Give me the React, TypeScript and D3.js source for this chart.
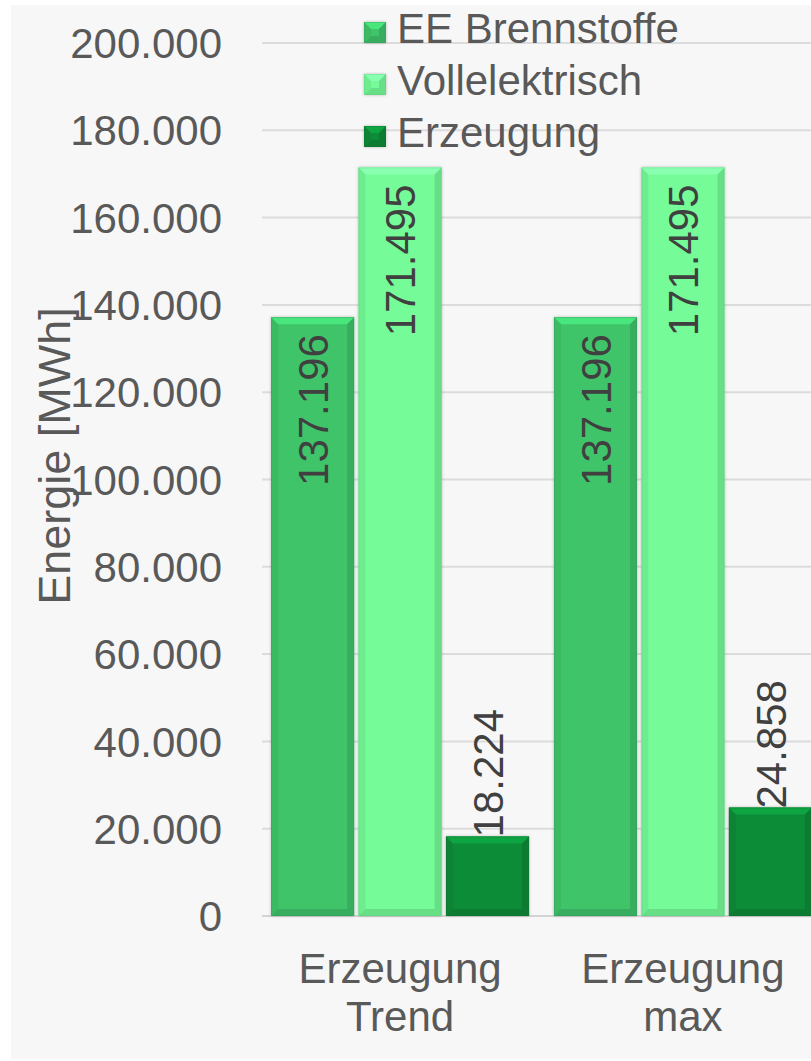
import React from 'react';
import * as d3 from 'd3';

const categories = [['Erzeugung', 'Trend'], ['Erzeugung', 'max']];
const seriesNames = ['EE Brennstoffe', 'Vollelektrisch', 'Erzeugung'];
const seriesColors = ['#3fc46b', '#75fc98', '#0b8c38'];
const eeBrennstoffe = [137196, 137196];
const vollelektrisch = [171495, 171495];
const erzeugung = [18224, 24858];
const yTicks = [0, 20000, 40000, 60000, 80000, 100000, 120000, 140000, 160000, 180000, 200000];

const W = 811;
const H = 1061;
const font = "'Liberation Sans', Arial, sans-serif";

const de = d3.formatLocale({ decimal: ',', thousands: '.', grouping: [3], currency: ['', ' €'] });
const fmt = de.format(',d');

const Bar = ({ x, y, w, h, color }: { x: number; y: number; w: number; h: number; color: string }) => {
    const b = Math.min(7, h / 2);
    const light = d3.color(color)!.brighter(0.45).formatHex();
    const dark = d3.color(color)!.darker(0.35).formatHex();
    const darker = d3.color(color)!.darker(0.6).formatHex();
    return (
        <g filter="url(#shadow)">
            <rect x={x} y={y} width={w} height={h} fill={color} />
            <polygon points={`${x},${y} ${x + w},${y} ${x + w - b},${y + b} ${x + b},${y + b}`} fill={light} />
            <polygon points={`${x},${y + h} ${x + w},${y + h} ${x + w - b},${y + h - b} ${x + b},${y + h - b}`} fill={dark} />
            <polygon points={`${x},${y} ${x + b},${y + b} ${x + b},${y + h - b} ${x},${y + h}`} fill={dark} opacity={0.5} />
            <polygon points={`${x + w},${y} ${x + w - b},${y + b} ${x + w - b},${y + h - b} ${x + w},${y + h}`} fill={darker} opacity={0.6} />
            <rect x={x + 0.5} y={y + 0.5} width={w - 1} height={h - 1} fill="none" stroke={darker} strokeOpacity={0.35} />
        </g>
    );
};

export default function App() {
    const series = [eeBrennstoffe, vollelektrisch, erzeugung];
    const y = d3.scaleLinear().domain([0, 200000]).range([916, 43]);
    const x0 = d3.scaleBand<number>()
        .domain(categories.map((_, i) => i))
        .range([262, 821])
        .paddingInner(0.088)
        .paddingOuter(0.032);
    const x1 = d3.scaleBand<number>()
        .domain(seriesNames.map((_, i) => i))
        .range([0, x0.bandwidth()])
        .paddingInner(0.05);

    return (
        <svg width={W} height={H} style={{ position: 'absolute', left: 0, top: 0 }} fontFamily={font}>
            <defs>
                <filter id="shadow" x="-10%" y="-10%" width="120%" height="120%">
                    <feDropShadow dx="0" dy="0" stdDeviation="1.5" floodColor="#000" floodOpacity="0.25" />
                </filter>
            </defs>
            <rect x={0} y={0} width={W} height={H} fill="#ffffff" />
            <rect x={11} y={5} width={W - 11} height={1054} fill="#f7f7f7" />

            {/* grid */}
            {yTicks.map(t => (
                <line key={t} x1={262} x2={W} y1={y(t)} y2={y(t)} stroke={t === 0 ? '#d4d4d4' : '#dcdcdc'} strokeWidth={2} />
            ))}

            {/* y tick labels */}
            {yTicks.map(t => (
                <text key={t} x={222} y={y(t)} dy="0.36em" textAnchor="end" fontSize={42} fill="#595959">
                    {fmt(t)}
                </text>
            ))}

            <text transform="translate(70,456) rotate(-90)" textAnchor="middle" fontSize={45} fill="#595959">
                Energie [MWh]
            </text>

            {/* data labels */}
            {categories.map((c, ci) =>
                series.map((s, si) => {
                    const cx = x0(ci)! + x1(si)! + x1.bandwidth() / 2;
                    const by = y(s[ci]);
                    const inside = y(0) - by > 200;
                    const ly = inside ? by + 17 : by + 1;
                    return (
                        <text
                            key={`l${ci}-${si}`}
                            transform={`translate(${cx},${ly}) rotate(-90)`}
                            dy="0.36em"
                            textAnchor={inside ? 'end' : 'start'}
                            fontSize={42}
                            fill="#404040"
                            style={{ display: inside ? 'none' : undefined }}
                        >
                            {fmt(s[ci])}
                        </text>
                    );
                })
            )}

            {/* bars */}
            {categories.map((c, ci) =>
                series.map((s, si) => {
                    const bx = x0(ci)! + x1(si)!;
                    const by = y(s[ci]);
                    return (
                        <Bar key={`${ci}-${si}`} x={bx} y={by} w={x1.bandwidth()} h={y(0) - by} color={seriesColors[si]} />
                    );
                })
            )}

            {/* data labels inside bars */}
            {categories.map((c, ci) =>
                series.map((s, si) => {
                    const cx = x0(ci)! + x1(si)! + x1.bandwidth() / 2;
                    const by = y(s[ci]);
                    if (y(0) - by <= 200) return null;
                    return (
                        <text
                            key={`i${ci}-${si}`}
                            transform={`translate(${cx},${by + 17}) rotate(-90)`}
                            dy="0.36em"
                            textAnchor="end"
                            fontSize={42}
                            fill="#404040"
                        >
                            {fmt(s[ci])}
                        </text>
                    );
                })
            )}

            {/* category labels */}
            {categories.map((c, ci) => (
                <text key={ci} textAnchor="middle" fontSize={42} fill="#595959">
                    <tspan x={x0(ci)! + x0.bandwidth() / 2} y={983}>{c[0]}</tspan>
                    <tspan x={x0(ci)! + x0.bandwidth() / 2} y={1031}>{c[1]}</tspan>
                </text>
            ))}

            {/* legend */}
            {seriesNames.map((n, i) => (
                <g key={n} transform={`translate(364,${22 + i * 52})`}>
                    <Bar x={0} y={0} w={22} h={21} color={seriesColors[i]} />
                    <text x={33} y={21} fontSize={42} fill="#595959">{n}</text>
                </g>
            ))}
        </svg>
    );
}
